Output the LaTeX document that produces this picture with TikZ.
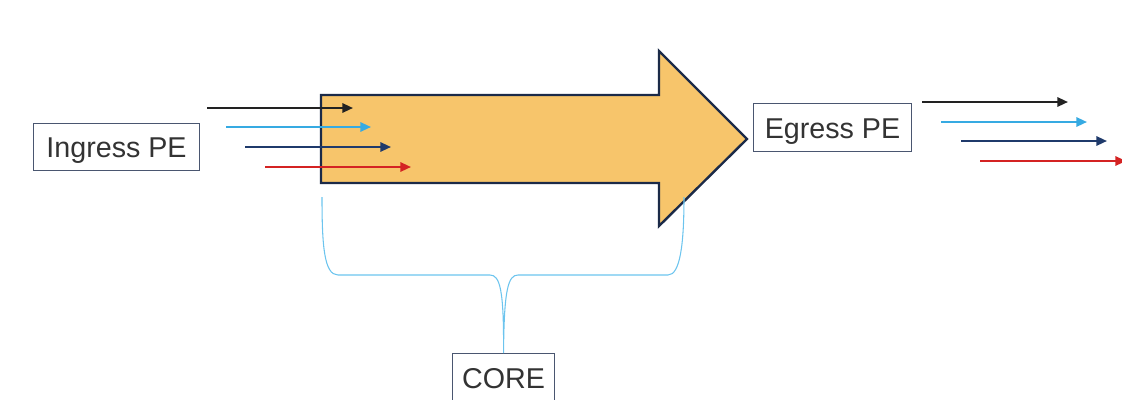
\documentclass[tikz,border=0pt]{standalone}
\usepackage{fontspec}
\setmainfont{Liberation Sans}
\usetikzlibrary{arrows.meta}
\definecolor{arrowfill}{HTML}{F7C56B}
\definecolor{arrowline}{HTML}{1B2A48}
\definecolor{fblack}{HTML}{222222}
\definecolor{fsky}{HTML}{36AAE2}
\definecolor{fnavy}{HTML}{1F3A6B}
\definecolor{fred}{HTML}{D42323}
\definecolor{bracec}{HTML}{6CC4EE}
\definecolor{boxline}{HTML}{4A5670}
\definecolor{txt}{HTML}{333333}
\begin{document}
\begin{tikzpicture}[x=0.75pt,y=-0.75pt,
  lbl/.style={draw=boxline,line width=0.8pt,fill=white,text=txt,font=\fontsize{21.5}{25}\selectfont,inner sep=0pt,anchor=north west},
  flow/.style={line width=1.6pt,-{Triangle[length=8pt,width=7pt]}},
  bigarrow/.style={fill=arrowfill,draw=arrowline,line width=1.8pt,line join=miter},
  bracel/.style={draw=bracec,line width=0.8pt}]
\useasboundingbox (0,0) rectangle (1122,400);
% big arrow
\draw[bigarrow] (321,95) -- (659,95) -- (659,51) -- (747,139) -- (659,226) -- (659,183) -- (321,183) -- cycle;
% labels
\node[lbl,minimum width=166*0.75pt,minimum height=47*0.75pt] (ing) at (33,123) {\raisebox{-3pt}[\height][\depth]{Ingress PE}};
\node[lbl,minimum width=158*0.75pt,minimum height=48*0.75pt] (egr) at (753,103) {\raisebox{-3pt}[\height][\depth]{Egress PE}};
\node[lbl,minimum width=102*0.75pt,minimum height=50*0.75pt] (core) at (452,353) {\raisebox{-4pt}{CORE}};
% left flows
\coordinate (l1s) at (207,108); \coordinate (l1e) at (353,108);
\coordinate (l2s) at (226,127); \coordinate (l2e) at (371,127);
\coordinate (l3s) at (245,147); \coordinate (l3e) at (391,147);
\coordinate (l4s) at (265,167); \coordinate (l4e) at (411,167);
\draw[flow,fblack] (l1s) -- (l1e);
\draw[flow,fsky] (l2s) -- (l2e);
\draw[flow,fnavy] (l3s) -- (l3e);
\draw[flow,fred] (l4s) -- (l4e);
% right flows
\coordinate (r1s) at (922,102); \coordinate (r1e) at (1068,102);
\coordinate (r2s) at (941,122); \coordinate (r2e) at (1087,122);
\coordinate (r3s) at (961,141); \coordinate (r3e) at (1107,141);
\coordinate (r4s) at (980,161); \coordinate (r4e) at (1126,161);
\draw[flow,fblack] (r1s) -- (r1e);
\draw[flow,fsky] (r2s) -- (r2e);
\draw[flow,fnavy] (r3s) -- (r3e);
\draw[flow,fred] (r4s) -- (r4e);
% brace
\coordinate (bl) at (322,197);
\coordinate (br) at (684,197);
\draw[bracel] (bl) .. controls (322,245) and (324,275) .. (338,275) -- (490,275)
  .. controls (500,275) and (504,290) .. (core.north)
  .. controls (504,290) and (508,275) .. (518,275) -- (668,275)
  .. controls (680,275) and (684,245) .. (br);
\end{tikzpicture}
\end{document}
